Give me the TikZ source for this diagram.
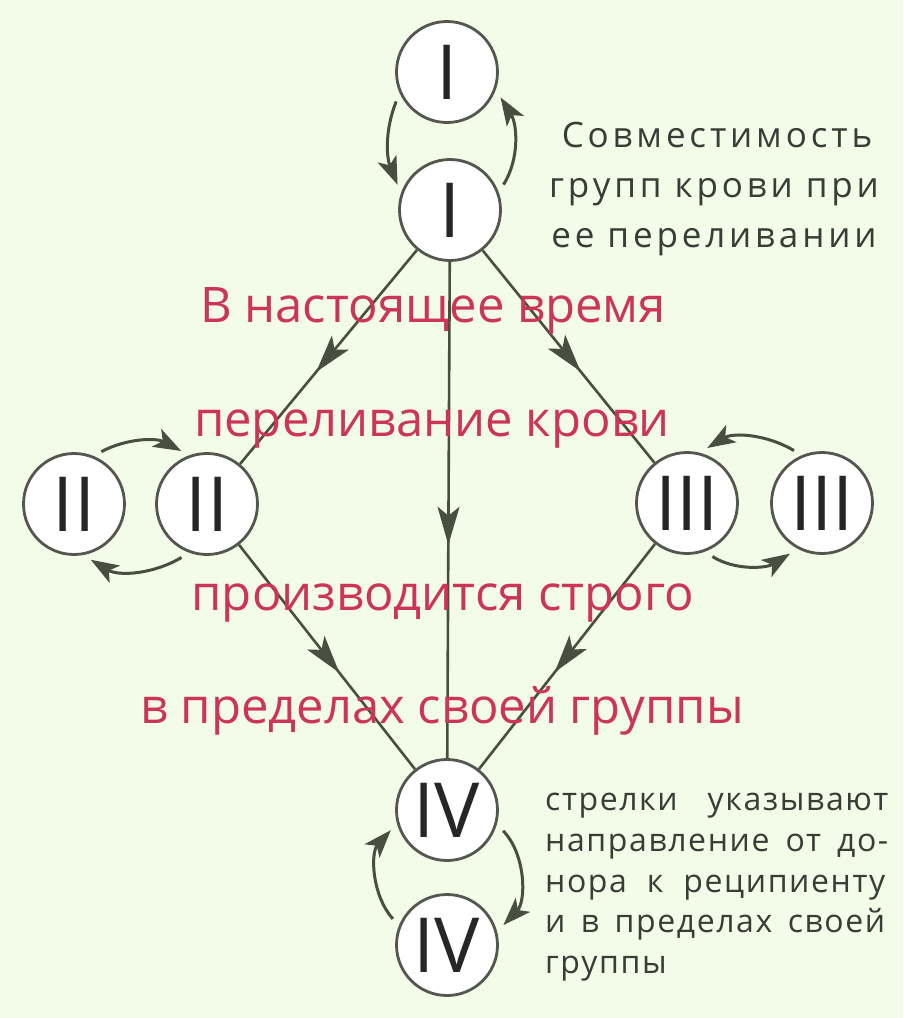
\documentclass[tikz,border=0pt]{standalone}
\usepackage{fontspec}
\setmainfont{Open Sans}
\newfontfamily\notefont[LetterSpace=11]{Open Sans}
\newfontfamily\notefontb[LetterSpace=5]{Open Sans}
\usetikzlibrary{arrows.meta,decorations.markings}
\definecolor{bg}{RGB}{243,252,232}
\definecolor{ln}{RGB}{72,78,64}
\definecolor{rim}{RGB}{84,86,80}
\definecolor{redtxt}{RGB}{204,52,88}
\definecolor{graytxt}{RGB}{58,60,54}
\tikzset{
 bigtip/.tip={Stealth[length=38pt,width=22pt,inset=9pt]},
 looptip/.tip={Stealth[length=28pt,width=20pt,inset=7pt]}
}
\begin{document}
\begin{tikzpicture}[x=1pt,y=1pt,
 blood/.style={circle, draw=rim, line width=2.8pt, fill=white, minimum size=101pt, inner sep=0pt, font=\fontsize{76}{76}\selectfont, text=black!85},
 conn/.style={color=ln, line width=2.6pt, postaction={decorate}, decoration={markings, mark=at position 0.57 with {\arrow{bigtip}}}},
 loopar/.style={color=ln, line width=3pt, -looptip, shorten <=9pt, shorten >=9pt},
 redline/.style={text=redtxt, font=\fontsize{49}{49}\selectfont, anchor=base, inner sep=0pt},
 note/.style={text=graytxt, font=\notefont\fontsize{35}{35}\selectfont, anchor=base, inner sep=0pt},
 note2/.style={text=graytxt, font=\notefontb\fontsize{32}{32}\selectfont, anchor=base west, inner sep=0pt}
]
\path[fill=bg] (0,0) rectangle (903,-1018);
\useasboundingbox (0,0) rectangle (903,-1018);

\node[blood] (Itop) at (447,-72) {I};
\node[blood] (Ibot) at (450,-210) {I};
\node[blood] (IIl) at (74,-504) {II};
\node[blood] (IIr) at (207,-504) {II};
\node[blood] (IIIl) at (687,-503) {III};
\node[blood] (IIIr) at (822,-503) {III};
\node[blood] (IVt) at (447,-810) {IV};
\node[blood] (IVb) at (447,-945) {IV};

\draw[conn] (Ibot) -- (IIr);
\draw[conn] (Ibot) -- (IVt);
\draw[conn] (Ibot) -- (IIIl);
\draw[conn] (IIr) -- (IVt);
\draw[conn] (IIIl) -- (IVt);

\draw[loopar] (Itop.204) to[out=248,in=112] (Ibot.161);
\draw[loopar] (Ibot.20) to[out=58,in=-58] (Itop.340);
\draw[loopar] (IIl.68) to[out=28,in=152] (IIr.110);
\draw[loopar] (IIr.250) to[out=211,in=-31] (IIl.280);
\draw[loopar] (IIIr.113) to[out=149,in=31] (IIIl.76);
\draw[loopar] (IIIl.290) to[out=-32,in=212] (IIIr.242);
\draw[loopar] (IVb.158) to[out=132,in=228] (IVt.195);
\draw[loopar] (IVt.344) to[out=-46,in=46] (IVb.15);

\node[redline] (r1) at (433,-322) {В настоящее время};
\node[redline] (r2) at (432,-436) {переливание крови};
\node[redline] (r3) at (443,-610) {производится строго};
\node[redline] (r4) at (442,-723) {в пределах своей группы};

\node[note] (t1) at (717,-147) {Совместимость};
\node[note] (t2) at (714,-197) {групп крови при};
\node[note] (t3) at (714,-247) {ее переливании};

\node[note2] (b1) at (545,-810) {\makebox[343pt][s]{стрелки указывают}};
\node[note2] (b2) at (545,-851) {\makebox[343pt][s]{направление от до-}};
\node[note2] (b3) at (545,-892) {\makebox[340pt][s]{нора к реципиенту}};
\node[note2] (b4) at (545,-932) {\makebox[340pt][s]{и в пределах своей}};
\node[note2] (b5) at (545,-973) {группы};
\end{tikzpicture}
\end{document}
